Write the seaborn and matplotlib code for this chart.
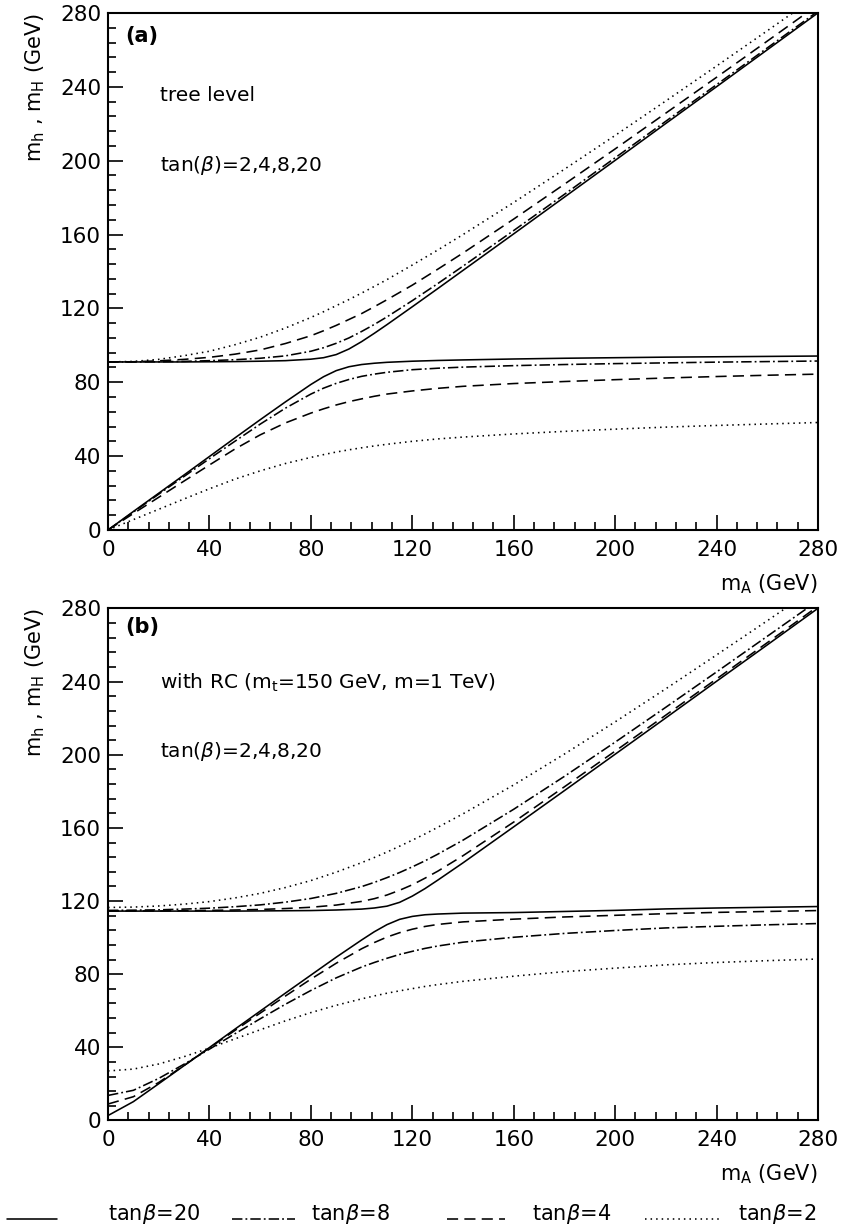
import pandas as pd
import matplotlib
matplotlib.use("Agg")
import matplotlib.pyplot as plt
from matplotlib.lines import Line2D
from matplotlib.ticker import MultipleLocator
import seaborn as sns

MA_A = [0, 10, 20, 30, 40, 50, 60, 70, 80, 85, 90, 95, 100, 105, 110, 120, 130, 140,
        160, 180, 200, 220, 240, 260, 280]
MA_B = [0, 10, 20, 30, 40, 50, 60, 70, 80, 90, 100, 105, 110, 115, 120, 125, 130, 140,
        160, 180, 200, 220, 240, 260, 280]

# (a) tree level : lower branch m_h and upper branch m_H
a_solid_lo = [0, 10, 19.9, 29.8, 39.8, 49.8, 59.7, 69.4, 78.8, 83, 86.3, 88.4, 89.6, 90.3,
              90.8, 91.4, 91.8, 92.1, 92.6, 93, 93.3, 93.6, 93.8, 94, 94.2]
a_solid_hi = [91, 91, 91, 91, 91.1, 91.2, 91.4, 91.7, 92.5, 93.3, 95, 98, 102, 106.5,
              111.2, 120.9, 130.7, 140.6, 160.4, 180.3, 200.2, 220.2, 240.1, 260.1, 280.1]
a_dashdot_lo = [0, 9.7, 19.4, 29, 38.6, 48, 57.3, 66, 73.6, 76.8, 79.4, 81.5, 83.2, 84.4,
                85.4, 86.8, 87.6, 88.2, 89, 89.6, 90.1, 90.5, 90.9, 91.2, 91.5]
a_dashdot_hi = [91, 91, 91.1, 91.3, 91.7, 92.2, 93, 94.3, 96.8, 98.7, 101.1, 104, 107.5,
                111.3, 115.4, 124.2, 133.4, 142.9, 162.2, 181.8, 201.6, 221.4, 241.2,
                261.1, 281]
a_dashed_lo = [0, 8.9, 17.7, 26.5, 35.2, 43.8, 51.5, 58, 63.3, 65.6, 67.7, 69.5, 71, 72.4,
               73.6, 75.3, 76.7, 77.8, 79.3, 80.4, 81.4, 82.3, 83.1, 83.8, 84.4]
a_dashed_hi = [91, 91.1, 91.6, 92.4, 93.5, 95.2, 97.5, 101, 105.2, 107.9, 110.8, 114,
               117.2, 120.9, 124.7, 132.6, 141.2, 150, 168.4, 187.3, 206.4, 225.8, 245.2,
               264.8, 284.5]
a_dotted_lo = [0, 5.6, 11.2, 16.8, 22.3, 27.5, 32, 36, 39.3, 40.8, 42.2, 43.4, 44.5, 45.5,
               46.4, 48, 49.3, 50.3, 52, 53.4, 54.6, 55.7, 56.6, 57.4, 58.2]
a_dotted_hi = [91, 91.3, 92.4, 94.4, 96.8, 100.3, 104.4, 109.4, 115.1, 118.2, 121.5, 124.8,
               128.3, 131.9, 135.6, 143.5, 151.6, 160, 177.4, 195.4, 213.7, 232.4, 251.3,
               270.4, 289.6]

# (b) with radiative corrections
b_solid_lo = [2.7, 10.3, 20.1, 30, 39.9, 49.9, 59.8, 69.7, 79.5, 89.3, 98.7, 103.2, 107.1,
              110, 111.6, 112.5, 112.9, 113.4, 113.7, 114.3, 114.9, 115.7, 116.2, 116.6, 117]
b_solid_hi = [114.5, 114.5, 114.5, 114.5, 114.5, 114.5, 114.6, 114.7, 114.8, 115.1, 115.6,
              116.2, 117.2, 119.3, 122.7, 126.8, 131.4, 140.9, 160.6, 180.4, 200.3, 220.2,
              240.2, 260.1, 280.1]
b_dashed_lo = [9, 13, 20.8, 30.1, 39.7, 49.2, 58.7, 68.1, 77.3, 86, 93.9, 97.3, 100.3,
               102.7, 104.6, 106.1, 107.2, 108.6, 110.1, 111.3, 112.2, 113.1, 113.8, 114.3,
               114.8]
b_dashed_hi = [114.6, 114.6, 114.6, 114.7, 114.9, 115.1, 115.4, 115.9, 116.6, 117.8, 119.8,
               121.3, 123.3, 125.9, 128.9, 132.5, 136.3, 144.8, 163.2, 182.5, 202, 221.7,
               241.5, 261.3, 281.2]
b_dashdot_lo = [13.7, 16.5, 23, 30.8, 39, 47.4, 55.6, 63.6, 71.1, 78, 83.9, 86.4, 88.7,
                90.8, 92.5, 94.1, 95.4, 97.5, 100.2, 102.3, 103.9, 105.3, 106.2, 107,
                107.7]
b_dashdot_hi = [114.9, 115, 115.2, 115.6, 116.1, 116.9, 117.9, 119.4, 121.4, 124.2, 127.9,
                130.2, 132.8, 135.6, 138.7, 142, 145.6, 153.3, 170.2, 188.2, 206.9, 226,
                245.3, 264.8, 284.3]
b_dotted_lo = [27.1, 28.1, 30.9, 34.9, 39.6, 44.6, 49.6, 54.5, 59, 63, 66.5, 68.1, 69.6,
               70.9, 72.1, 73.3, 74.3, 76.1, 78.9, 81.4, 83.3, 85.1, 86.4, 87.4, 88.3]
b_dotted_hi = [116.5, 116.7, 117.3, 118.3, 119.7, 121.7, 124.2, 127.4, 131.2, 135.8, 141,
               143.8, 146.8, 150, 153.3, 156.7, 160.3, 167.7, 183.5, 200.4, 218, 236.1,
               254.6, 273.3, 292.3]

LEGEND_STYLES = ["solid", "dashdot", "dashed", "dotted"]
LEGEND_LABELS = [r"tan$\mathit{\beta}$=20", r"tan$\mathit{\beta}$=8",
                 r"tan$\mathit{\beta}$=4", r"tan$\mathit{\beta}$=2"]

DASHES = {"solid": "", "dashdot": (7.5, 2.2, 1.3, 2.2), "dashed": (8, 4.5), "dotted": (1.1, 2.9)}
MPL_LS = {"solid": "-", "dashdot": (0, DASHES["dashdot"]), "dashed": (0, DASHES["dashed"]),
          "dotted": (0, DASHES["dotted"])}


def make_frame(ma, curves):
    rows = []
    for (style, branch), vals in curves.items():
        for x, y in zip(ma, vals):
            rows.append({"mA": x, "m": y, "style": style, "curve": style + "_" + branch})
    return pd.DataFrame(rows)


df_a = make_frame(MA_A, {
    ("solid", "lo"): a_solid_lo, ("solid", "hi"): a_solid_hi,
    ("dashdot", "lo"): a_dashdot_lo, ("dashdot", "hi"): a_dashdot_hi,
    ("dashed", "lo"): a_dashed_lo, ("dashed", "hi"): a_dashed_hi,
    ("dotted", "lo"): a_dotted_lo, ("dotted", "hi"): a_dotted_hi,
})
df_b = make_frame(MA_B, {
    ("solid", "lo"): b_solid_lo, ("solid", "hi"): b_solid_hi,
    ("dashdot", "lo"): b_dashdot_lo, ("dashdot", "hi"): b_dashdot_hi,
    ("dashed", "lo"): b_dashed_lo, ("dashed", "hi"): b_dashed_hi,
    ("dotted", "lo"): b_dotted_lo, ("dotted", "hi"): b_dotted_hi,
})

sns.set_style("ticks")
plt.rcParams["font.family"] = ["DejaVu Sans"]
plt.rcParams["mathtext.default"] = "regular"
plt.rcParams["lines.scale_dashes"] = False
plt.rcParams["axes.linewidth"] = 1.5
for key in ["text.color", "axes.labelcolor", "xtick.color", "ytick.color",
            "axes.edgecolor"]:
    plt.rcParams[key] = "black"

fig = plt.figure(figsize=(8.44, 12.29), dpi=100)
ax_a = fig.add_axes([0.128, 0.5688, 0.8412, 0.4206])
ax_b = fig.add_axes([0.128, 0.0883, 0.8412, 0.4166])

for ax, df in [(ax_a, df_a), (ax_b, df_b)]:
    sns.lineplot(data=df, x="mA", y="m", style="style", units="curve", estimator=None,
                 style_order=LEGEND_STYLES, dashes=DASHES, color="black", linewidth=1.15,
                 legend=False, ax=ax)
    ax.set_xlim(0, 280)
    ax.set_ylim(0, 280)
    ax.set_xticks(range(0, 281, 40))
    ax.set_yticks(range(0, 281, 40))
    ax.xaxis.set_minor_locator(MultipleLocator(8))
    ax.yaxis.set_minor_locator(MultipleLocator(8))
    ax.tick_params(which="both", direction="in", top=False, right=False, width=1.2,
                   color="black", labelcolor="black")
    ax.tick_params(which="major", length=11, labelsize=15.5)
    ax.tick_params(axis="x", which="major", pad=7)
    ax.tick_params(axis="y", which="major", pad=5)
    ax.tick_params(which="minor", length=6)
    for sp in ax.spines.values():
        sp.set_visible(True)
        sp.set_color("black")
    ax.set_xlabel("m$_A$ (GeV)", fontsize=15, loc="right", labelpad=9, color="black")
    ax.set_ylabel("m$_h$ , m$_H$ (GeV)", fontsize=15, loc="top", labelpad=9,
                  color="black")

ax_a.text(0.024, 0.956, "(a)", transform=ax_a.transAxes, ha="left", va="center",
          fontsize=15, fontweight="bold")
ax_a.text(0.073, 0.84, "tree level", transform=ax_a.transAxes, ha="left", va="center",
          fontsize=14.5)
ax_a.text(0.073, 0.705, r"tan($\mathit{\beta}$)=2,4,8,20", transform=ax_a.transAxes,
          ha="left", va="center", fontsize=14.5)

ax_b.text(0.024, 0.964, "(b)", transform=ax_b.transAxes, ha="left", va="center",
          fontsize=15, fontweight="bold")
ax_b.text(0.073, 0.854, "with RC (m$_t$=150 GeV, m=1 TeV)", transform=ax_b.transAxes,
          ha="left", va="center", fontsize=14.5)
ax_b.text(0.073, 0.72, r"tan($\mathit{\beta}$)=2,4,8,20", transform=ax_b.transAxes,
          ha="left", va="center", fontsize=14.5)

# legend row under the lower panel
W, H = 844.0, 1229.0
key_x = [(7, 57), (232, 295), (447, 505), (645, 720)]
text_x = [108, 311, 532, 738]
for st, lab, (x0, x1), tx in zip(LEGEND_STYLES, LEGEND_LABELS, key_x, text_x):
    fig.add_artist(Line2D([x0 / W, x1 / W], [1 - 1219 / H] * 2, transform=fig.transFigure,
                          color="black", linewidth=1.15, linestyle=MPL_LS[st]))
    fig.text(tx / W, 1 - 1220 / H, lab, ha="left", va="baseline", fontsize=15)

fig.savefig("out.png", dpi=100)
